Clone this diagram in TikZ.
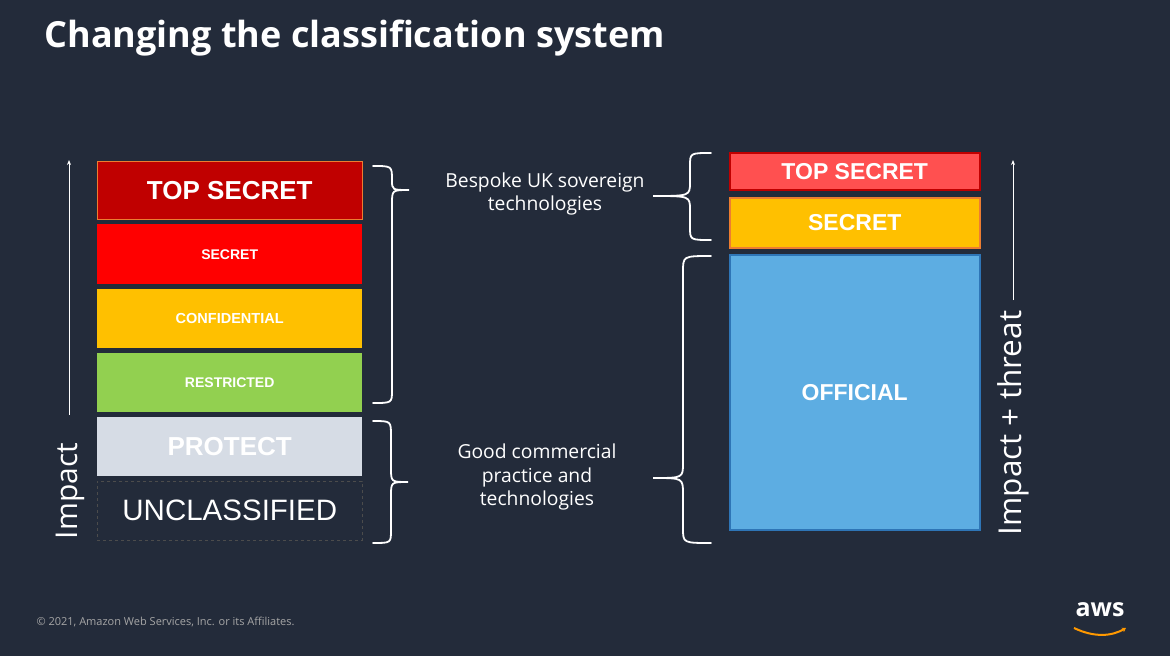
\documentclass[tikz,border=0pt]{standalone}
\usepackage{fontspec}
\usetikzlibrary{arrows.meta}
\setmainfont{Open Sans}
\newfontfamily\arialf{Liberation Sans}
\definecolor{awsorange}{RGB}{255,153,0}
\begin{document}
\begin{tikzpicture}[x=1pt,y=-1pt,
  box/.style={draw=none,minimum width=265pt,anchor=north west,inner sep=0,text=white,font=\arialf\bfseries},
  rbox/.style={minimum width=250pt,anchor=north west,inner sep=0,text=white,font=\arialf\bfseries\fontsize{23}{23}\selectfont,line width=1.5pt},
  br/.style={draw=white,line width=1.8pt,line cap=round},
  lab/.style={text=white,align=center,font=\fontsize{19.3}{23.5}\selectfont}]
\definecolor{bg}{HTML}{232B3A}
\fill[bg] (0,0) rectangle (1170,656);
\useasboundingbox (0,0) rectangle (1170,656);
\node[anchor=west,text=white,font=\bfseries\fontsize{36}{36}\selectfont] (title) at (41,38) {Changing the classification system};
% left stack
\node[box,fill={rgb,255:red,192;green,0;blue,0},draw={rgb,255:red,237;green,125;blue,49},line width=0.6pt,minimum height=58pt,font=\arialf\bfseries\fontsize{26}{26}\selectfont] (ts) at (97,161) {TOP SECRET};
\node[box,fill={rgb,255:red,255;green,0;blue,0},minimum height=60pt,font=\arialf\bfseries\fontsize{14}{14}\selectfont] (s) at (97,224) {SECRET};
\node[box,fill={rgb,255:red,255;green,192;blue,0},minimum height=59pt,font=\arialf\bfseries\fontsize{14.5}{14}\selectfont] (c) at (97,289) {CONFIDENTIAL};
\node[box,fill={rgb,255:red,146;green,208;blue,80},minimum height=59pt,font=\arialf\bfseries\fontsize{14}{14}\selectfont] (r) at (97,353) {RESTRICTED};
\node[box,fill={rgb,255:red,214;green,220;blue,229},minimum height=59pt,font=\arialf\bfseries\fontsize{26}{26}\selectfont] (p) at (97,417) {PROTECT};
\node[box,draw=black!70,dashed,line width=0.6pt,minimum height=59pt,font=\arialf\fontsize{29.5}{29}\selectfont] (u) at (97,481) {UNCLASSIFIED};
\coordinate (la1) at (69,415); \coordinate (la2) at (69,160);
\draw[white,line width=1pt,-{Stealth[length=5pt,width=4pt]}] (la1) -- (la2);
\node[rotate=90,text=white,font=\fontsize{30}{30}\selectfont] (imp) at (70,491) {Impact};
% braces left
\draw[br] (373,166) .. controls (392,166) .. (392,180) -- (392,180) .. controls (392,190) .. (409,190) .. controls (392,190) .. (392,204) -- (392,390) .. controls (392,403) .. (373,403);
\draw[br] (373,421) .. controls (391,421) .. (391,436) -- (391,468) .. controls (391,482) .. (408,482) .. controls (391,482) .. (391,496) -- (391,530) .. controls (391,543) .. (373,543);
\node[lab] (t1) at (545,194) {Bespoke UK sovereign\\technologies};
\node[lab] (t2) at (537,477) {Good commercial\\practice and\\technologies};
% braces right
\draw[br] (711,153) .. controls (690,153) .. (690,166) -- (690,182) .. controls (690,196) .. (653,196) .. controls (690,196) .. (690,210) -- (690,227) .. controls (690,240) .. (711,240);
\draw[br] (711,256) .. controls (683,256) .. (683,272) -- (683,463) .. controls (683,478) .. (653,478) .. controls (683,478) .. (683,494) -- (683,528) .. controls (683,543) .. (711,543);
% right stack
\node[rbox,fill={rgb,255:red,255;green,80;blue,80},draw={rgb,255:red,192;green,0;blue,0},minimum height=37pt] (rts) at (729,152) {TOP SECRET};
\node[rbox,fill={rgb,255:red,255;green,192;blue,0},draw={rgb,255:red,237;green,125;blue,49},minimum height=50pt] (rs) at (729,197) {SECRET};
\node[rbox,fill={rgb,255:red,93;green,173;blue,226},draw={rgb,255:red,46;green,117;blue,182},minimum height=275pt] (ro) at (729,254) {OFFICIAL};
\coordinate (ra1) at (1013,300); \coordinate (ra2) at (1013,160);
\draw[white,line width=1pt,-{Stealth[length=5pt,width=4pt]}] (ra1) -- (ra2);
\node[rotate=90,text=white,font=\fontsize{31.5}{31}\selectfont] (imt) at (1013,423) {Impact + threat};
% footer
\node[anchor=west,text=gray!70,font=\fontsize{11}{11}\selectfont] (foot) at (33,622) {© 2021, Amazon Web Services, Inc. or its Affiliates.};
\node[text=white,font=\bfseries\fontsize{25}{25}\selectfont] (aws) at (1100,610) {aws};
\draw[awsorange,line width=2pt,-{Stealth[length=4pt,width=5pt]}] (1074,628) .. controls (1095,638) and (1112,636) .. (1126,628);
\end{tikzpicture}
\end{document}
